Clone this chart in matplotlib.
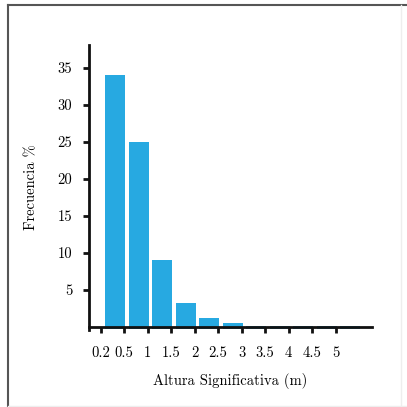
import numpy as np
import matplotlib.pyplot as plt
from matplotlib.lines import Line2D

plt.rcParams["font.family"] = "serif"
plt.rcParams["font.serif"] = ["cmr10", "DejaVu Serif"]
plt.rcParams["mathtext.fontset"] = "cm"
plt.rcParams["axes.formatter.use_mathtext"] = True

categorias = ["0.2", "0.5", "1", "1.5", "2", "2.5", "3", "3.5", "4", "4.5", "5"]
frecuencia = [34.0, 25.0, 9.0, 3.3, 1.2, 0.6, 0.2, 0.2, 0.2, 0.2, 0.2]
yticks = [5, 10, 15, 20, 25, 30, 35]

fig = plt.figure(figsize=(4.07, 4.07), dpi=100)
ax = fig.add_axes([0.2187, 0.1902, 0.914 - 0.2187, 0.8894 - 0.1902])

pos = np.arange(len(categorias))
base = -0.3  # las barras asoman un poco bajo el eje, como en el original
ax.bar(pos + 0.62, np.array(frecuencia) - base, bottom=base, width=0.85,
       color="#27a9e1", edgecolor="none", zorder=1)

ax.set_xlim(-0.5, 11.55)
ax.set_ylim(-0.35, 38.1)
ax.spines["bottom"].set_position(("data", 0))
ax.set_xticks(pos)
ax.set_xticklabels(categorias, fontsize=10.5)
ax.set_yticks(yticks)
ax.set_yticklabels([str(t) for t in yticks], fontsize=10.5)
ax.tick_params(direction="out", length=4, width=2, color="#111111")
ax.tick_params(axis="x", pad=10)
ax.tick_params(axis="y", pad=8)

for s in ["top", "right"]:
    ax.spines[s].set_visible(False)
for s in ["left", "bottom"]:
    ax.spines[s].set_linewidth(2)
    ax.spines[s].set_color("#111111")
    ax.spines[s].set_zorder(3)

ax.set_xlabel("Altura Significativa (m)", fontsize=10.5, labelpad=9)
ax.set_ylabel("Frecuencia %", fontsize=10.5, labelpad=14)

# marco de la figura
fig.add_artist(Line2D([7.5 / 407, 7.5 / 407], [0, 1 - 4.5 / 407], transform=fig.transFigure, color="#555555", lw=1.5))
fig.add_artist(Line2D([7.5 / 407, 1], [1 - 4.5 / 407, 1 - 4.5 / 407], transform=fig.transFigure, color="#555555", lw=1.5))
fig.add_artist(Line2D([400.5 / 407, 400.5 / 407], [0, 1 - 4.5 / 407], transform=fig.transFigure, color="#eeeeee", lw=1))
fig.add_artist(Line2D([7.5 / 407, 1], [1.5 / 407, 1.5 / 407], transform=fig.transFigure, color="#eeeeee", lw=1))

fig.savefig("out.png", dpi=100)
